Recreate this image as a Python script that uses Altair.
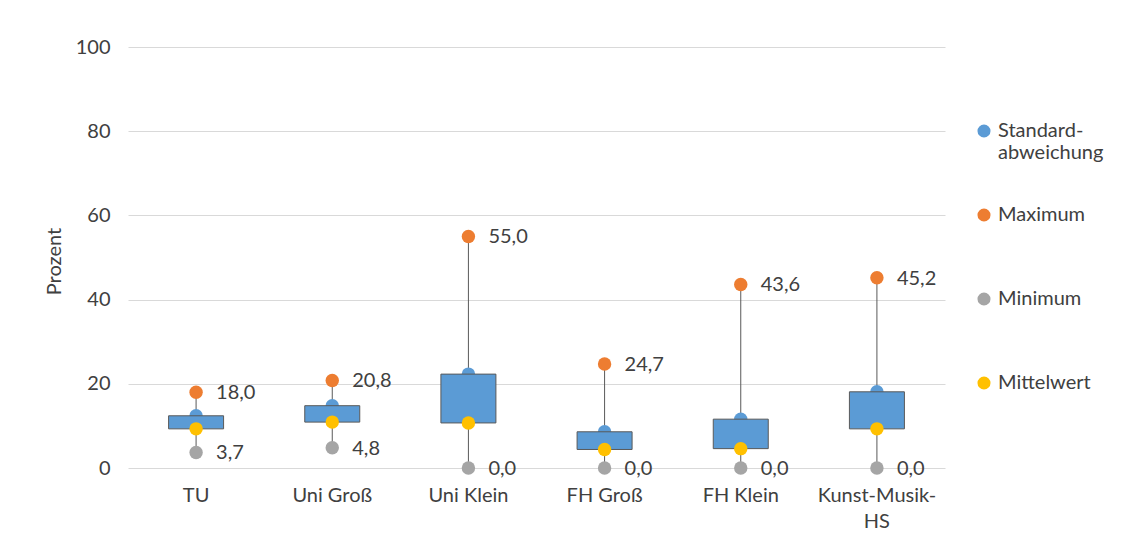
import altair as alt
import pandas as pd

categories = ["TU", "Uni Groß", "Uni Klein", "FH Groß", "FH Klein", "Kunst-Musik-HS"]
std_values = [12.4, 14.8, 22.3, 8.6, 11.6, 18.1]
max_values = [18.0, 20.8, 55.0, 24.7, 43.6, 45.2]
min_values = [3.7, 4.8, 0.0, 0.0, 0.0, 0.0]
mean_values = [9.3, 10.9, 10.7, 4.4, 4.6, 9.3]

series_names = ["Standard-abweichung", "Maximum", "Minimum", "Mittelwert"]
series_colors = ["#5B9BD5", "#ED7D31", "#A5A5A5", "#FFC000"]
y_ticks = [0, 20, 40, 60, 80, 100]

FONT = "Lato"
TXT = "#404040"

wide = pd.DataFrame({
    "Kategorie": categories,
    "std": std_values,
    "max": max_values,
    "min": min_values,
    "mean": mean_values,
})
wide["max_label"] = wide["max"].map(lambda v: f"{v:.1f}".replace(".", ","))
wide["min_label"] = wide["min"].map(lambda v: f"{v:.1f}".replace(".", ","))

rows = []
for name, col in zip(series_names, ["std", "max", "min", "mean"]):
    for c, v in zip(categories, wide[col]):
        rows.append({"Kategorie": c, "Serie": name, "Wert": v})
long = pd.DataFrame(rows)

x_enc = alt.X(
    "Kategorie:N",
    sort=categories,
    scale=alt.Scale(paddingInner=0, paddingOuter=0),
    axis=alt.Axis(
        title=None, labelAngle=0, domain=False, ticks=False, labelPadding=17,
        labelExpr="datum.label == 'Kunst-Musik-HS' ? ['Kunst-Musik-', 'HS'] : datum.label",
        labelLineHeight=26,
    ),
)
y_scale = alt.Scale(domain=[0, 100], nice=False)
y_axis = alt.Axis(
    title="Prozent", values=y_ticks, domain=False, ticks=False, labelPadding=18,
    titlePadding=11, titleY=214, grid=True,
)

color_scale = alt.Scale(domain=series_names, range=series_colors)
legend = alt.Legend(
    title=None,
    orient="none",
    legendX=846,
    legendY=74,
    symbolType="circle",
    symbolSize=170,
    labelFontSize=20,
    labelFont=FONT,
    labelColor=TXT,
    labelLimit=0,
    rowPadding=42,
    labelExpr="datum.label == 'Standard-abweichung' ? ['Standard-', 'abweichung'] : [datum.label, ' ']",
)

whisker = alt.Chart(wide).mark_rule(color="#595959", strokeWidth=1).encode(
    x=x_enc,
    y=alt.Y("min:Q", scale=y_scale, axis=y_axis),
    y2="max:Q",
)

std_pts = alt.Chart(long).transform_filter(
    alt.datum.Serie == "Standard-abweichung"
).mark_circle(size=180, opacity=1).encode(
    x=x_enc,
    y=alt.Y("Wert:Q", scale=y_scale),
    color=alt.Color("Serie:N", scale=color_scale, legend=legend, sort=series_names),
)

box = alt.Chart(wide).mark_bar(
    size=55, color="#5B9BD5", stroke="#595959", strokeWidth=1
).encode(
    x=x_enc,
    y=alt.Y("mean:Q", scale=y_scale),
    y2="std:Q",
)

other_pts = alt.Chart(long).transform_filter(
    alt.datum.Serie != "Standard-abweichung"
).mark_circle(size=180, opacity=1).encode(
    x=x_enc,
    y=alt.Y("Wert:Q", scale=y_scale),
    color=alt.Color("Serie:N", scale=color_scale, legend=legend, sort=series_names),
)

max_txt = alt.Chart(wide).mark_text(
    align="left", baseline="middle", dx=20, dy=1, fontSize=20, font=FONT, color=TXT
).encode(x=x_enc, y=alt.Y("max:Q", scale=y_scale), text="max_label:N")

min_txt = alt.Chart(wide).mark_text(
    align="left", baseline="middle", dx=20, dy=1, fontSize=20, font=FONT, color=TXT
).encode(x=x_enc, y=alt.Y("min:Q", scale=y_scale), text="min_label:N")

chart = alt.layer(whisker, std_pts, box, other_pts, max_txt, min_txt).properties(
    width=817,
    height=421,
    autosize=alt.AutoSizeParams(type="none"),
    padding={"left": 120, "top": 39, "right": 181, "bottom": 82},
    background="white",
).configure_view(stroke=None).configure_axis(
    labelFont=FONT, labelFontSize=20, labelColor=TXT,
    titleFont=FONT, titleFontSize=20, titleColor=TXT, titleFontWeight="normal",
    gridColor="#D9D9D9", gridWidth=1,
)

chart.save("out.html", embed_options={"renderer": "svg", "actions": False})
